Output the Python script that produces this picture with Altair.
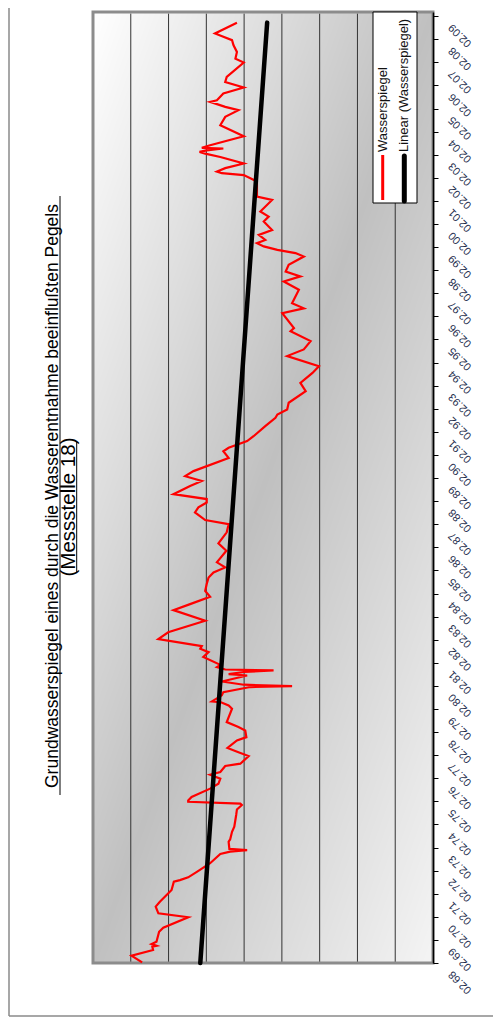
import altair as alt
import pandas as pd
import numpy as np
import zlib
import struct
import base64

# ---- data ----
years = [1968.03, 1968.32, 1968.56, 1968.71, 1968.75, 1968.82, 1968.92, 1969.35, 1969.53, 1969.98,
         1970.15, 1970.44, 1970.65, 1971.16, 1971.52, 1971.59, 1971.71, 1971.99, 1972.32, 1972.72,
         1972.82, 1972.89, 1972.94, 1973.25, 1973.35, 1973.68, 1973.90, 1974.41, 1974.65, 1974.84,
         1974.90, 1974.98, 1975.04, 1975.19, 1975.55, 1975.76, 1975.98, 1976.15, 1976.27, 1976.53,
         1976.63, 1976.96, 1977.13, 1977.31, 1977.64, 1977.78, 1978.07, 1978.22, 1978.43, 1979.01,
         1979.15, 1979.30, 1979.33, 1979.59, 1979.73, 1979.95, 1979.99, 1980.05, 1980.19, 1980.45,
         1980.51, 1980.60, 1980.67, 1980.71, 1980.81, 1980.91, 1981.25, 1981.46, 1981.61, 1981.72,
         1982.03, 1982.32, 1982.82, 1983.28, 1983.54, 1983.86, 1984.11, 1984.41, 1984.69, 1984.91,
         1985.13, 1985.35, 1985.53, 1985.85, 1986.17, 1986.65, 1987.00, 1987.18, 1987.51, 1987.73,
         1987.94, 1988.09, 1988.30, 1988.65, 1988.87, 1989.08, 1989.30, 1989.87, 1990.16, 1990.31,
         1990.60, 1990.81, 1991.25, 1991.61, 1991.75, 1991.97, 1992.26, 1992.76, 1993.12, 1993.55,
         1993.84, 1994.28, 1994.57, 1994.93, 1995.36, 1995.49, 1996.14, 1996.35, 1996.57, 1997.15,
         1997.51, 1997.73, 1997.94, 1998.23, 1998.59, 1998.74, 1998.88, 1999.03, 1999.17, 1999.31,
         1999.53, 1999.74, 2000.11, 2000.32, 2000.54, 2001.04, 2001.19, 2001.84, 2002.12, 2002.20,
         2002.27, 2002.42, 2002.62, 2002.90, 2003.05, 2003.12, 2003.19, 2003.27, 2003.30, 2003.41,
         2003.80, 2004.28, 2004.64, 2004.93, 2005.07, 2005.29, 2005.36, 2005.65, 2005.91, 2006.15,
         2006.37, 2006.99, 2007.16, 2007.45, 2007.74, 2007.96, 2008.25, 2008.71]
levels = [424.70, 424.98, 424.41, 424.43, 424.32, 424.45, 424.32, 424.25, 424.14, 423.48,
          424.27, 424.34, 424.23, 423.92, 423.86, 423.70, 423.48, 423.21, 422.90, 422.63,
          422.37, 421.92, 422.39, 422.41, 422.37, 422.32, 422.26, 422.21, 422.19, 422.06,
          422.10, 423.48, 423.48, 423.39, 422.90, 422.68, 422.63, 422.90, 422.63, 422.50,
          422.10, 421.88, 422.15, 422.44, 422.19, 421.94, 421.97, 422.15, 422.46, 422.32,
          422.41, 422.63, 422.85, 422.59, 422.55, 421.84, 420.73, 422.01, 422.59, 421.92,
          422.41, 422.01, 421.22, 422.50, 422.72, 422.63, 423.08, 422.94, 423.16, 423.12,
          424.27, 424.01, 423.03, 423.87, 423.43, 422.90, 423.03, 422.99, 422.94, 422.81,
          422.50, 422.72, 422.63, 422.47, 422.68, 422.46, 422.41, 423.03, 423.30, 423.21,
          422.99, 422.99, 423.87, 423.43, 423.12, 423.56, 423.34, 422.41, 422.55, 422.41,
          421.92, 421.75, 421.44, 421.17, 421.12, 420.86, 420.82, 420.37, 420.51, 420.19,
          420.02, 420.86, 420.42, 420.24, 420.77, 420.68, 420.99, 420.42, 420.73, 420.55,
          420.95, 420.51, 420.90, 420.82, 420.42, 420.64, 421.12, 421.48, 421.66, 421.44,
          421.61, 421.26, 421.48, 421.35, 421.57, 421.26, 421.66, 421.66, 422.01, 422.59,
          422.72, 422.50, 422.01, 422.63, 423.03, 423.18, 422.99, 422.55, 423.12, 422.90,
          422.01, 422.63, 422.50, 422.15, 422.50, 422.90, 422.72, 422.55, 422.01, 422.50,
          422.46, 422.01, 422.23, 422.19, 422.28, 422.32, 422.77, 422.19]

trend_years = [1968.0, 2008.72]
trend_levels = [423.16, 421.39]

date_ticks = list(range(1968, 2010))
date_labels = ["02.68", "02.69", "02.70", "02.71", "02.72", "02.73", "02.74", "02.75", "02.76",
               "02.77", "02.78", "02.79", "02.80", "02.81", "02.82", "02.83", "02.84", "02.85",
               "02.86", "02.87", "02.88", "02.89", "02.90", "02.91", "02.92", "02.93", "02.94",
               "02.95", "02.96", "02.97", "02.98", "02.99", "02.00", "02.01", "02.02", "02.03",
               "02.04", "02.05", "02.06", "02.07", "02.08", "02.09"]
level_ticks = [426, 425, 424, 423, 422, 421, 420, 419, 418, 417]
level_labels = ["426,00", "425,00", "424,00", "423,00", "422,00", "421,00", "420,00",
                "419,00", "418,00", "417,00"]

title_lines = ["Grundwasserspiegel eines durch die Wasserentnahme beeinflußten Pegels",
               "(Messstelle 18)"]
legend_names = ["Wasserspiegel", "Linear (Wasserspiegel)"]

FONT = "Liberation Sans"
LABEL_COLOR = "#1f2f4f"
PW, PH = 340, 951  # plot area size in pixels


# ---- background shading of the plot area (diagonal grey gradient, as a small PNG) ----
def _chunk(typ, data):
    return struct.pack(">I", len(data)) + typ + data + struct.pack(">I", zlib.crc32(typ + data) & 0xFFFFFFFF)


def gradient_png(w, h):
    u = np.linspace(0, 1, w)[None, :]
    v = np.linspace(0, 1, h)[:, None]
    t = (u + v) / 2.0
    c = np.where(t < 0.5, 255 - 126 * t, 192 + 104 * (t - 0.5))
    c = np.clip(np.round(c), 0, 255).astype(np.uint8)
    raw = b"".join(b"\x00" + row.tobytes() for row in c)
    png = (b"\x89PNG\r\n\x1a\n"
           + _chunk(b"IHDR", struct.pack(">IIBBBBB", w, h, 8, 0, 0, 0, 0))
           + _chunk(b"IDAT", zlib.compress(raw, 9))
           + _chunk(b"IEND", b""))
    return "data:image/png;base64," + base64.b64encode(png).decode("ascii")


bg_url = gradient_png(PW, PH)

df = pd.DataFrame({"t": years, "v": levels, "i": list(range(len(years)))})
tr = pd.DataFrame({"t": trend_years, "v": trend_levels})
gd = pd.DataFrame({"v": level_ticks})
one = pd.DataFrame({"a": [0]})

date_expr = "[" + ",".join("'%s'" % s for s in date_labels) + "][round(datum.value) - %d]" % date_ticks[0]
level_expr = "[" + ",".join("'%s'" % s for s in level_labels) + "][round(%d - datum.value)]" % level_ticks[0]

x_scale = alt.Scale(domain=[417, 426], reverse=True, nice=False, zero=False)
y_scale = alt.Scale(domain=[1968, 2009.18], nice=False, zero=False)

x_enc = alt.X(
    "v:Q", scale=x_scale,
    axis=alt.Axis(
        orient="bottom", values=level_ticks, labelExpr=level_expr, title=None,
        labelAngle=270, labelAlign="right", labelBaseline="middle",
        labelFont=FONT, labelFontSize=12, labelColor=LABEL_COLOR, labelPadding=4,
        tickColor="#000000", tickSize=5, domainColor="#000000", domainWidth=1.5,
        grid=False, labelOverlap=False, zindex=2,
    ),
)
y_enc = alt.Y(
    "t:Q", scale=y_scale,
    axis=alt.Axis(
        orient="right", values=date_ticks, labelExpr=date_expr, title=None,
        labelAngle=225, labelAlign="right", labelBaseline="middle", labelOffset=9,
        labelFont=FONT, labelFontSize=11, labelColor=LABEL_COLOR, labelPadding=12,
        tickColor="#000000", tickSize=5, domainColor="#000000", domainWidth=1.5,
        grid=False, labelOverlap=False, zindex=2,
    ),
)

# fallback solid fill, then the shaded image on top of it
bg_solid = alt.Chart(one).mark_rect(fill="#d0d0d0", strokeWidth=0).encode(
    x=alt.value(0), x2=alt.value(PW), y=alt.value(0), y2=alt.value(PH))
bg_img = alt.Chart(pd.DataFrame({"u": [bg_url]})).mark_image(
    width=PW, height=PH, align="left", baseline="top", aspect=False
).encode(url="u:N", x=alt.value(0), y=alt.value(0))

frame = alt.Chart(one).mark_rect(
    fillOpacity=0, stroke="#8c8c8c", strokeWidth=3
).encode(x=alt.value(0), x2=alt.value(PW), y=alt.value(0), y2=alt.value(PH))

grid = alt.Chart(gd).mark_rule(color="#333333", strokeWidth=1).encode(
    x=alt.X("v:Q", scale=x_scale, axis=None), y=alt.value(1.5), y2=alt.value(PH))

series = alt.Chart(df).mark_line(color="#ff0000", strokeWidth=2.2).encode(
    x=x_enc, y=y_enc, order="i:Q"
)
trend = alt.Chart(tr).mark_line(color="#000000", strokeWidth=4.5, strokeCap="round").encode(
    x=x_enc, y=y_enc
)

leg_box = alt.Chart(one).mark_rect(
    fill="#ffffff", stroke="#000000", strokeWidth=1
).encode(x=alt.value(280), x2=alt.value(324), y=alt.value(0), y2=alt.value(191))
leg_red = alt.Chart(one).mark_rule(
    color="#ff0000", strokeWidth=3
).encode(x=alt.value(289.7), y=alt.value(143), y2=alt.value(188))
leg_black = alt.Chart(one).mark_rule(
    color="#000000", strokeWidth=5, strokeCap="round"
).encode(x=alt.value(311.3), y=alt.value(144), y2=alt.value(189))
leg_t1 = alt.Chart(pd.DataFrame({"s": [legend_names[0]]})).mark_text(
    angle=270, align="left", baseline="middle", font=FONT, fontSize=13, color="#111111"
).encode(text="s:N", x=alt.value(289.5), y=alt.value(140))
leg_t2 = alt.Chart(pd.DataFrame({"s": [legend_names[1]]})).mark_text(
    angle=270, align="left", baseline="middle", font=FONT, fontSize=13, color="#111111"
).encode(text="s:N", x=alt.value(311.3), y=alt.value(140))

title1 = alt.Chart(pd.DataFrame({"s": [title_lines[0]]})).mark_text(
    angle=270, align="center", baseline="alphabetic", font=FONT, fontSize=17.5, color="#000000"
).encode(text="s:N", x=alt.value(-35), y=alt.value(484))
title2 = alt.Chart(pd.DataFrame({"s": [title_lines[1]]})).mark_text(
    angle=270, align="center", baseline="alphabetic", font=FONT, fontSize=20.5, color="#000000"
).encode(text="s:N", x=alt.value(-18.5), y=alt.value(495))
ul1 = alt.Chart(one).mark_rule(color="#000000", strokeWidth=1).encode(
    x=alt.value(-33), y=alt.value(184), y2=alt.value(783))
ul2 = alt.Chart(one).mark_rule(color="#000000", strokeWidth=1).encode(
    x=alt.value(-16.3), y=alt.value(430), y2=alt.value(560))

border_l = alt.Chart(one).mark_rule(color="#8a8a8a", strokeWidth=1.5).encode(
    x=alt.value(-84), y=alt.value(-6), y2=alt.value(1004))
border_b = alt.Chart(one).mark_rule(color="#8a8a8a", strokeWidth=1.5).encode(
    x=alt.value(-84), x2=alt.value(405), y=alt.value(1004))

chart = alt.layer(
    bg_solid, bg_img, grid, frame, series, trend, leg_box, leg_red, leg_black, leg_t1, leg_t2,
    title1, title2, ul1, ul2, border_l, border_b
).properties(
    width=PW, height=PH,
    autosize=alt.AutoSizeParams(type="none"),
    padding={"left": 85, "top": 4, "right": 60, "bottom": 54},
    background="#ffffff",
).configure_view(stroke=None)

chart.save("out.html", embed_options={"renderer": "svg", "actions": False})
